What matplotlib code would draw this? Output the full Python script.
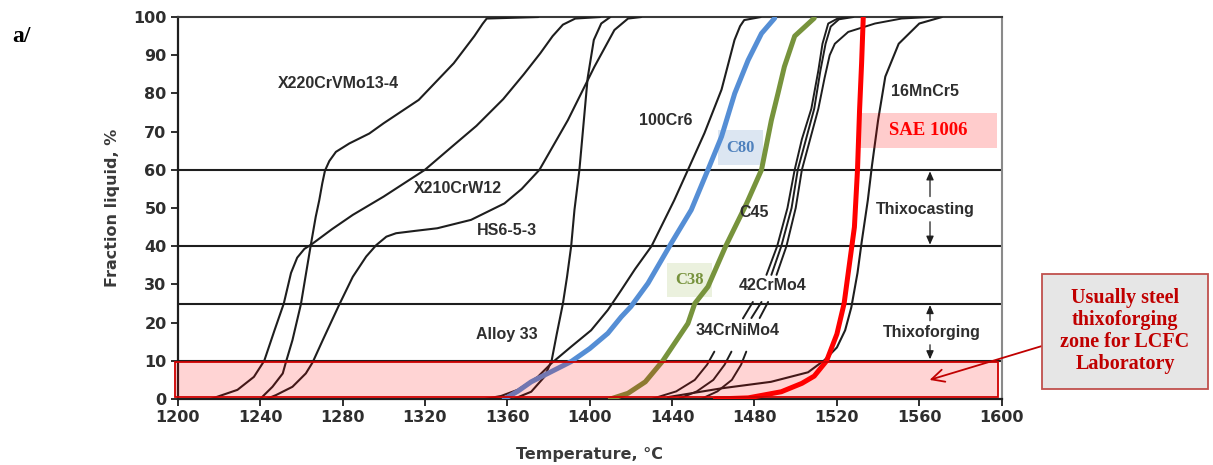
import matplotlib.pyplot as plt
from matplotlib.patches import Rectangle

# fraction liquid curves: (temperature degC, fraction %)
x220_t = [1240, 1246, 1251, 1252.5, 1255.7, 1259.8, 1262.3, 1264.6, 1267, 1268.7, 1270.2, 1271.5,
          1273.6, 1276.8, 1283.3, 1293, 1300, 1317, 1334, 1344, 1348, 1350, 1375]
x220_f = [0, 3.2, 6.7, 9.6, 15.4, 24.8, 32.9, 40.3, 47.7, 52, 56.5, 59.8, 62.3, 64.7, 66.9, 69.5,
          72.2, 78.3, 87.9, 95, 98.2, 99.6, 100]

x210_t = [1216, 1229, 1237, 1242, 1247, 1251.5, 1255, 1258, 1261.5, 1265, 1275, 1285, 1300, 1310,
          1320, 1333, 1345, 1358, 1368, 1376, 1382, 1387, 1393, 1405]
x210_f = [0, 2.4, 5.8, 10, 18, 25, 33, 37, 39.3, 40.5, 44.5, 48.2, 53, 56.5, 60, 66, 71.5, 78.5,
          85, 90.5, 95, 98, 99.6, 100]

hs6_t = [1243, 1247.6, 1255.7, 1262.2, 1265.5, 1270.4, 1278.5, 1285, 1291.5, 1296.4, 1301.3, 1306,
         1315, 1326, 1342.4, 1358.6, 1367, 1375.6, 1389.4, 1402.3, 1412, 1418.6, 1425]
hs6_f = [0, 1, 3.2, 6.7, 9.6, 15.4, 24.8, 32, 37.3, 40.3, 42.5, 43.4, 44, 44.7, 46.9, 51.2, 55,
         60, 73, 87, 96.6, 99.6, 100]

alloy33_t = [1363, 1371.6, 1378, 1381.5, 1384, 1387, 1389, 1391, 1392.6, 1395, 1397, 1399, 1402,
             1405.6, 1410]
alloy33_f = [0, 1.9, 5.8, 10, 17, 25, 32, 40, 49.5, 60, 72, 84, 94, 98.3, 100]

cr6_t = [1349, 1357, 1365, 1374.8, 1381.3, 1391, 1400.7, 1408.8, 1415.3, 1422, 1430, 1441, 1447.7,
         1455.7, 1464, 1470.3, 1473, 1475, 1483]
cr6_f = [0, 0.8, 2.4, 5.8, 9.3, 13.7, 18, 23.3, 28.5, 34, 40, 52, 60, 69.6, 81, 94, 97.6, 99.2, 100]

c80_t = [1358.5, 1365, 1371.6, 1391, 1400, 1408.8, 1415.3, 1420, 1428.3, 1439.6, 1449.3, 1457.4,
         1464, 1470.4, 1476.9, 1483.4, 1489.8]
c80_f = [0, 2, 4.5, 9.8, 13.2, 17.2, 21.5, 24.2, 30.3, 40.8, 49.5, 60, 68.7, 80, 88.7, 95.7, 99.7]

c38_t = [1410, 1418.6, 1427, 1435.5, 1447.7, 1451, 1457.4, 1466, 1476, 1483.4, 1488.2, 1491.4,
         1494.5, 1499.5, 1509]
c38_f = [0, 1.5, 4.5, 10, 19.8, 25, 29.4, 40, 51, 60, 73, 80, 87, 95, 99.7]

sae_t = [1461, 1477, 1493, 1503, 1509, 1515, 1520, 1523.5, 1526, 1528.5, 1530, 1531, 1532, 1532.8]
sae_f = [0, 0.3, 1.9, 4.1, 6, 10, 17, 25, 35, 45, 60, 75.6, 88, 100]

mn16_t = [1438, 1464, 1488, 1506, 1514, 1520, 1524, 1527, 1530, 1532, 1535, 1537, 1540, 1543.5,
          1550, 1560, 1571]
mn16_f = [0.5, 2.8, 4.5, 7, 10.2, 13.5, 18, 24, 33, 41, 52, 61, 73, 84.4, 93, 98.3, 100]

# C45 / 42CrMo4 / 34CrNiMo4 are drawn broken: (bottom, middle, top) pieces
bundle = [
    ([1430, 1442, 1451, 1457, 1460.5], [0, 2, 5, 9, 12.4],
     [1474.4, 1479.2], [21.1, 25.4],
     [1485.8, 1491, 1496, 1499.5, 1503, 1507.6, 1511, 1513, 1515.8, 1520, 1525.5],
     [32.5, 40, 50, 60, 68, 76, 86, 93, 98.3, 99.5, 100]),
    ([1443, 1452, 1460, 1465.5, 1468.8], [0, 2, 5, 9, 12.4],
     [1478.5, 1483.4], [21.2, 25.4],
     [1488.2, 1493, 1498, 1501, 1505, 1509, 1512, 1514.5, 1517, 1521, 1528],
     [32.5, 40, 50, 60, 68, 76, 86, 93, 97.5, 99.4, 100]),
    ([1454, 1462, 1469, 1473.5, 1476], [0, 2, 5, 9, 12.4],
     [1482.5, 1486.6], [21.2, 25.4],
     [1490.7, 1495.5, 1500, 1503, 1507, 1511, 1514, 1516.5, 1519, 1525.5, 1538.5, 1551.4, 1565],
     [32.5, 40, 50, 60, 68, 76, 84, 90, 93, 96.1, 98.3, 99.6, 100]),
]

levels = [60, 40, 25, 10]
xticks = list(range(1200, 1601, 40))
yticks = list(range(0, 101, 10))

labels = [
    ('X220CrVMo13-4', 1278, 82.5), ('X210CrW12', 1336, 55), ('HS6-5-3', 1360, 44),
    ('Alloy 33', 1360, 17), ('100Cr6', 1437, 72.9), ('C45', 1480, 48.8),
    ('42CrMo4', 1489, 29.6), ('34CrNiMo4', 1472, 18), ('16MnCr5', 1563, 80.6),
    ('Thixocasting', 1563, 49.7), ('Thixoforging', 1566, 17.3),
]

ink = '#1e1e1e'
txt = '#2e2e2e'

fig = plt.figure(figsize=(12.13, 4.65), dpi=100)
ax = fig.add_axes([0.1465, 0.1419, 0.6793, 0.8215])
ax.set_xlim(1200, 1600)
ax.set_ylim(0, 100)

for lv in levels:
    ax.axhline(lv, color=ink, lw=1.5, zorder=2)

for t, f in [(x220_t, x220_f), (x210_t, x210_f), (hs6_t, hs6_f), (alloy33_t, alloy33_f),
             (cr6_t, cr6_f), (mn16_t, mn16_f)]:
    ax.plot(t, f, color=ink, lw=1.5, zorder=3, solid_capstyle='round', solid_joinstyle='round')
for bt, bf, mt, mf, tt, tf in bundle:
    for t, f in [(bt, bf), (mt, mf), (tt, tf)]:
        ax.plot(t, f, color=ink, lw=1.4, zorder=3, solid_capstyle='round', solid_joinstyle='round')

ax.plot(c80_t, c80_f, color='#558ed5', lw=3.6, zorder=4, solid_capstyle='round')
ax.plot(c38_t, c38_f, color='#77933c', lw=3.6, zorder=4, solid_capstyle='round')
ax.plot(sae_t, sae_f, color='#ff0000', lw=3.6, zorder=4, solid_capstyle='round')

# thixoforging zone of the lab
ax.add_patch(Rectangle((1198.5, 0.5), 399.5, 9.3, fc=(1, 0, 0, 0.17), ec='#d00000', lw=1.3,
                       zorder=5, clip_on=False))

# small coloured label boxes
ax.add_patch(Rectangle((1462.3, 61.3), 21.6, 9.1, fc='#dce6f2', ec='none', zorder=2))
ax.text(1473, 65.8, 'C80', color='#4f81bd', family='Liberation Serif', weight='bold', size=12,
        ha='center', va='center', zorder=6)
ax.add_patch(Rectangle((1437.7, 26.7), 21.8, 8.9, fc='#ebf1de', ec='none', zorder=2))
ax.text(1448.6, 31.2, 'C38', color='#76923c', family='Liberation Serif', weight='bold', size=12,
        ha='center', va='center', zorder=6)
ax.add_patch(Rectangle((1531, 65.7), 66.6, 9.2, fc=(1, 0, 0, 0.2), ec='none', zorder=5))
ax.text(1564.3, 70.3, 'SAE 1006', color='#ff0000', family='Liberation Serif', weight='bold',
        size=13.5, ha='center', va='center', zorder=6)

for s, x, y in labels:
    ax.text(x, y, s, color=txt, family='Liberation Sans', weight='bold', size=11.5,
            ha='center', va='center', zorder=6)

# double arrows for the two process windows
arr = dict(arrowstyle='-|>,head_length=0.5,head_width=0.22', color=ink, lw=0.9,
           shrinkA=0, shrinkB=0)
for y0, y1 in [(53, 59.6), (46.4, 40.4), (20.5, 24.6), (14.2, 10.4)]:
    ax.annotate('', xy=(1565.2, y1), xytext=(1565.2, y0), arrowprops=arr, zorder=6)

ax.set_xticks(xticks)
ax.set_yticks(yticks)
ax.tick_params(direction='out', length=5, width=1.3, color=ink, pad=3)
for lab in ax.get_xticklabels() + ax.get_yticklabels():
    lab.set_family('DejaVu Sans')
    lab.set_weight('bold')
    lab.set_size(11.5)
    lab.set_color(txt)

for side in ['left', 'bottom']:
    ax.spines[side].set_linewidth(1.6)
    ax.spines[side].set_color(ink)
ax.spines['top'].set_linewidth(1.5)
ax.spines['top'].set_color('#3a3a3a')
ax.spines['right'].set_linewidth(1.5)
ax.spines['right'].set_color('#8a8a8a')

ax.set_xlabel('Temperature, °C', family='DejaVu Sans', weight='bold', size=11.5, color='#3a3a3a')
ax.set_ylabel('Fraction liquid, %', family='DejaVu Sans', weight='bold', size=11.5, color='#3a3a3a')
ax.xaxis.set_label_coords(0.5, -0.125)
ax.yaxis.set_label_coords(-0.07, 0.5)

fig.text(12 / 1213, 1 - 36 / 465, 'a/', family='Liberation Serif', weight='bold', size=17,
         va='center', ha='left')

# note box outside the axes
fig.patches.append(Rectangle((1042 / 1213, 1 - 389 / 465), 166 / 1213, 115 / 465,
                             transform=fig.transFigure, fc='#e6e6e6', ec='#c0504d', lw=1.3))
fig.text(1125 / 1213, 1 - 331 / 465, 'Usually steel\nthixoforging\nzone for LCFC\nLaboratory',
         family='Liberation Serif', weight='bold', size=14.5, color='#c00000',
         ha='center', va='center', linespacing=1.13)
ax.annotate('', xy=(1565, 5), xycoords='data', xytext=(1042 / 1213, 1 - 346 / 465),
            textcoords='figure fraction',
            arrowprops=dict(arrowstyle='->,head_length=0.9,head_width=0.45', color='#c00000',
                            lw=1.3, shrinkA=0, shrinkB=0), zorder=7, annotation_clip=False)

fig.savefig('out.png', dpi=100)
